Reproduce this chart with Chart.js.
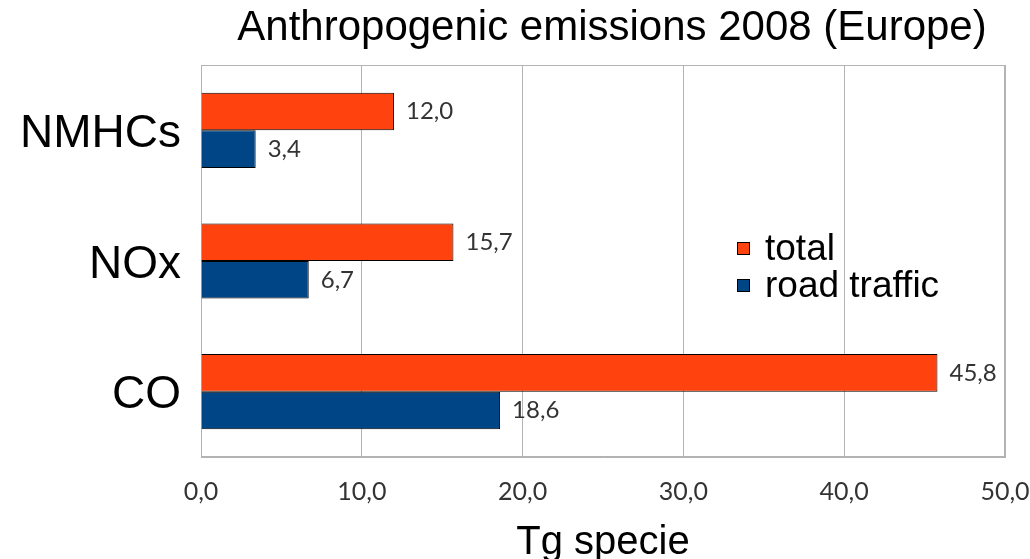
<!DOCTYPE html>
<html><head><meta charset="utf-8">
<script src="https://cdn.jsdelivr.net/npm/chart.js@4/dist/chart.umd.min.js"></script>
<style>html,body{margin:0;padding:0;background:#fff}#wrap{width:1030px;height:559px}</style>
</head><body><div id="wrap"><canvas id="c" width="1030" height="559"></canvas></div>
<script>
const categories = ["NMHCs", "NOx", "CO"];
const totalValues = [12.0, 15.7, 45.8];
const roadTrafficValues = [3.4, 6.7, 18.6];
const seriesNames = ["total", "road traffic"];
const xTicks = [0, 10, 20, 30, 40, 50];
const chartTitle = "Anthropogenic emissions 2008 (Europe)";
const xTitle = "Tg specie";

const fmt = v => v.toFixed(1).replace('.', ',');
const colors = ["#ff420e", "#004586"];

const overlay = {
  id: 'overlay',
  afterDatasetsDraw(chart) {
    const ctx = chart.ctx;
    ctx.save();
    // data labels
    ctx.font = '24px Lato';
    ctx.fillStyle = '#333';
    ctx.textBaseline = 'middle';
    ctx.textAlign = 'left';
    chart.data.datasets.forEach((ds, i) => {
      chart.getDatasetMeta(i).data.forEach((bar, j) => {
        ctx.fillText(fmt(ds.data[j]), bar.x + 12, bar.y);
      });
    });
    // legend
    const lx = 737, ly = [249, 286];
    ctx.font = '37px "Liberation Sans"';
    seriesNames.forEach((n, i) => {
      ctx.fillStyle = colors[i];
      ctx.fillRect(lx, ly[i] - 7, 13, 13);
      ctx.strokeStyle = '#000';
      ctx.lineWidth = 1;
      ctx.strokeRect(lx + 0.5, ly[i] - 6.5, 12, 12);
      ctx.fillStyle = '#000';
      ctx.fillText(n, 765, ly[i] + 1);
    });
    // title
    ctx.textAlign = 'center';
    ctx.textBaseline = 'alphabetic';
    ctx.font = '42px "Liberation Sans"';
    ctx.fillText(chartTitle, 612, 40);
    ctx.restore();
  }
};

new Chart(document.getElementById('c'), {
  type: 'bar',
  data: {
    labels: categories,
    datasets: [
      { label: seriesNames[0], data: totalValues, backgroundColor: colors[0], borderColor: '#000', borderWidth: 1, barPercentage: 1, categoryPercentage: 0.575 },
      { label: seriesNames[1], data: roadTrafficValues, backgroundColor: colors[1], borderColor: '#000', borderWidth: 1, barPercentage: 1, categoryPercentage: 0.575 }
    ]
  },
  options: {
    indexAxis: 'y',
    responsive: false,
    animation: false,
    layout: { padding: { top: 65, right: 25, left: 0, bottom: 0 } },
    plugins: { legend: { display: false }, title: { display: false }, tooltip: { enabled: false } },
    scales: {
      x: {
        min: 0, max: 50,
        afterBuildTicks(s) { s.ticks = xTicks.map(v => ({ value: v })); },
        afterFit(s) { s.height = 102; s.paddingRight = 0; s.paddingLeft = 0; },
        grid: { color: '#b3b3b3', drawTicks: false },
        border: { color: '#b3b3b3' },
        ticks: { font: { family: 'Lato', size: 25 }, color: '#333', padding: 20, callback: v => fmt(v) },
        title: { display: true, text: xTitle, font: { family: 'Liberation Sans', size: 40 }, color: '#000', padding: { top: 0, bottom: -8 } }
      },
      y: {
        afterFit(s) { s.width = 201; s.paddingTop = 0; s.paddingBottom = 0; },
        grid: { display: false, drawTicks: false },
        border: { color: '#b3b3b3' },
        ticks: { font: { family: 'Liberation Sans', size: 46 }, color: '#000', padding: 20, labelOffset: 4 }
      }
    }
  },
  plugins: [overlay, {
    id: 'frame',
    beforeDatasetsDraw(chart) {
      const { ctx, chartArea: a } = chart;
      ctx.save();
      ctx.strokeStyle = '#b3b3b3';
      ctx.lineWidth = 1;
      ctx.strokeRect(a.left + 0.5, a.top + 0.5, a.right - a.left - 1, a.bottom - a.top - 1);
      ctx.restore();
    }
  }]
});
</script>
</body></html>
